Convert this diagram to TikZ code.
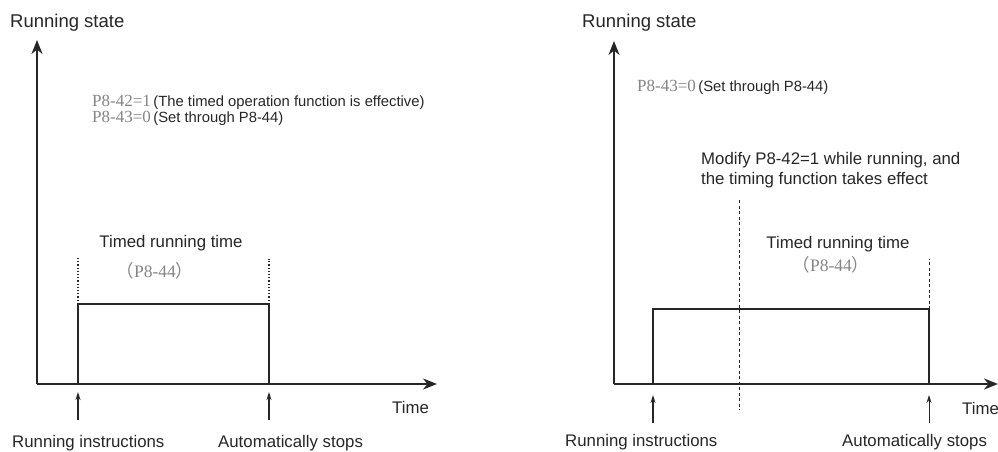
\documentclass[tikz,border=0pt]{standalone}
\usepackage{fontspec}
\setmainfont{Liberation Sans}
\newfontfamily\serifg{Liberation Serif}
\newfontfamily\cjk{Noto Sans CJK SC}
\usetikzlibrary{arrows.meta}
\definecolor{ink}{HTML}{262626}
\definecolor{greytxt}{HTML}{858585}
\newcommand{\parm}[1]{{\color{greytxt}\serifg\fontsize{17}{18}\selectfont #1}}
\newcommand{\pbox}{{\color{greytxt}\serifg\fontsize{17.5}{18}\selectfont{\cjk （}P8-44{\cjk ）}}}
\begin{document}
\begin{tikzpicture}[x=1pt,y=-1pt,
  axis/.style={line width=2pt, draw=ink, -{Stealth[length=14pt,width=11pt]}},
  pulse/.style={line width=1.5pt, draw=ink},
  guidedot/.style={line width=1.1pt, draw=ink, dash pattern=on 1.2pt off 2pt},
  guidedash/.style={line width=1pt, draw=ink, dash pattern=on 3pt off 2.5pt},
  marker/.style={line width=1.2pt, draw=ink, -{Stealth[length=8pt,width=5pt]}},
  lbl/.style={inner sep=0pt, anchor=west, text=ink, font=\fontsize{16.8}{20}\selectfont},
  title/.style={inner sep=0pt, anchor=west, text=ink, font=\fontsize{18.5}{22}\selectfont},
  note/.style={inner sep=0pt, anchor=west, text=ink, font=\fontsize{14.8}{17}\selectfont},
  mid/.style={inner sep=0pt, anchor=center, text=ink, font=\fontsize{16.8}{20}\selectfont}]
\useasboundingbox (0,0) rectangle (998,452);

% ---------------- left diagram ----------------
\coordinate (O1) at (37,384);
\coordinate (Y1) at (37,40);
\coordinate (X1) at (437,384);
\coordinate (A1) at (78,384);
\coordinate (B1) at (78,304);
\coordinate (C1) at (269,304);
\coordinate (D1) at (269,384);
\coordinate (A1t) at (78,257);
\coordinate (C1t) at (269,259);
\coordinate (M1a) at (78,420);
\coordinate (M1b) at (78,392);
\coordinate (M2a) at (269,420);
\coordinate (M2b) at (269,392);

\draw[axis] (O1) -- (Y1);
\draw[axis] (O1) -- (X1);
\draw[pulse] (A1) -- (B1) -- (C1) -- (D1);
\draw[guidedot] (B1) -- (A1t);
\draw[guidedot] (C1) -- (C1t);
\draw[marker] (M1a) -- (M1b);
\draw[marker] (M2a) -- (M2b);

\node[title] (rs1) at (10,23) {Running state};
\node[note] (n1a) at (92,102) {\parm{P8-42=1}\,(The timed operation function is effective)};
\node[note] (n1b) at (92,118) {\parm{P8-43=0}\,(Set through P8-44)};
\node[mid] (tr1) at (171,243) {Timed running time};
\node[inner sep=0pt] (p1) at (155,271) {\pbox};
\node[lbl] (t1) at (392,407) {Time};
\node[lbl] (ri1) at (12,443) {Running instructions};
\node[lbl] (as1) at (218,443) {Automatically stops};

% ---------------- right diagram ----------------
\coordinate (O2) at (614,384);
\coordinate (Y2) at (614,41);
\coordinate (X2) at (998,384);
\coordinate (A2) at (653,384);
\coordinate (B2) at (653,309);
\coordinate (C2) at (929,309);
\coordinate (D2) at (929,384);
\coordinate (C2t) at (929,259);
\coordinate (E2a) at (739,200);
\coordinate (E2b) at (739,410);
\coordinate (N1a) at (653,423);
\coordinate (N1b) at (653,395);
\coordinate (N2a) at (929,423);
\coordinate (N2b) at (929,395);

\draw[axis] (O2) -- (Y2);
\draw[axis] (O2) -- (X2);
\draw[pulse] (A2) -- (B2) -- (C2) -- (D2);
\draw[guidedash] (C2) -- (C2t);
\draw[guidedash] (E2a) -- (E2b);
\draw[marker] (N1a) -- (N1b);
\draw[marker, line width=0.9pt] (N2a) -- (N2b);

\node[title] (rs2) at (582,23) {Running state};
\node[note] (n2) at (637,87) {\parm{P8-43=0}\,(Set through P8-44)};
\node[lbl, align=left] (mod) at (701,170) {Modify P8-42=1 while running, and\\the timing function takes effect};
\node[mid] (tr2) at (838,244) {Timed running time};
\node[inner sep=0pt] (p2) at (831,265) {\pbox};
\node[lbl] (t2) at (962,408) {Time};
\node[lbl] (ri2) at (565,442) {Running instructions};
\node[lbl] (as2) at (842,442) {Automatically stops};
\end{tikzpicture}
\end{document}
